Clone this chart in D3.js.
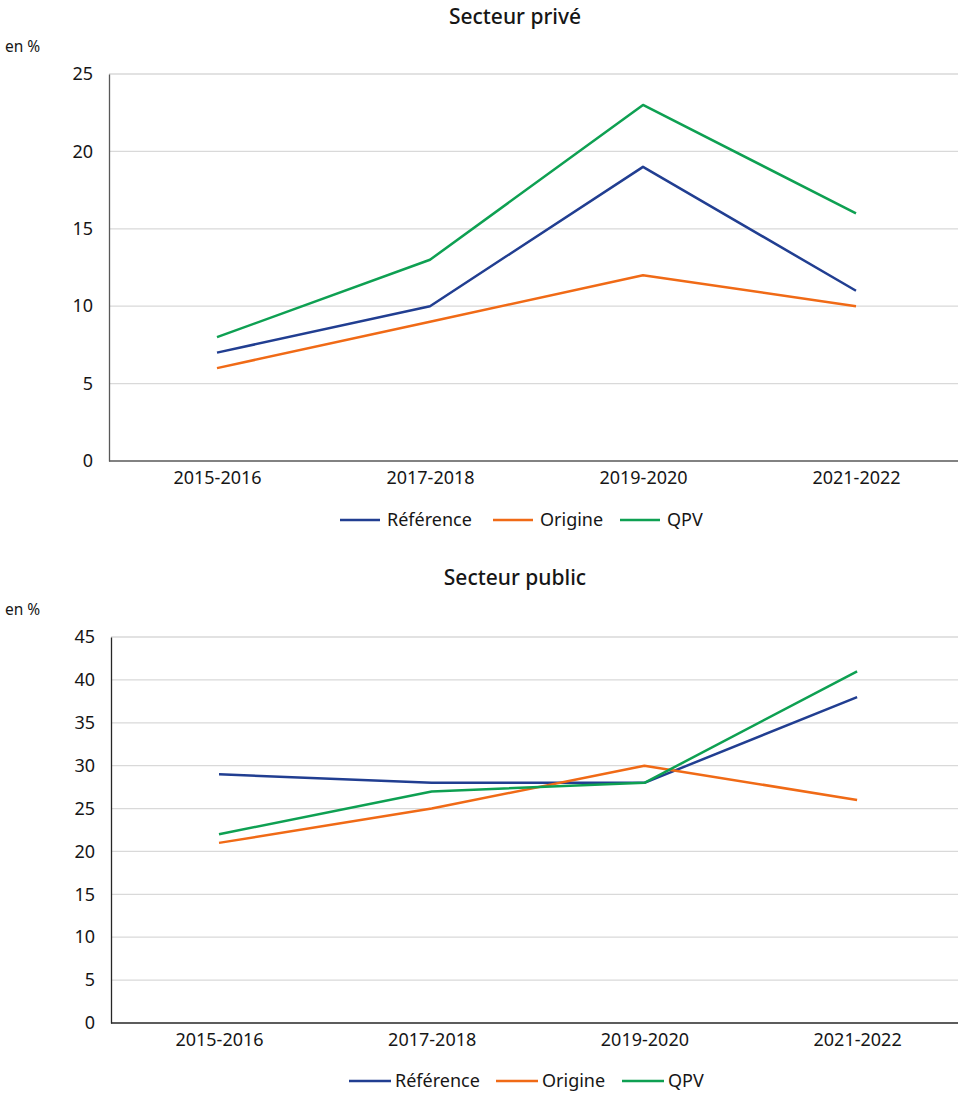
<!DOCTYPE html>
<html><head><meta charset="utf-8">
<script src="https://cdn.jsdelivr.net/npm/d3@7"></script>
<style>body{margin:0;background:#fff}svg{display:block;font-family:"Noto Sans",sans-serif}</style>
</head><body><svg id="c" width="958" height="1093"></svg>
<script>
const categories = ["2015-2016","2017-2018","2019-2020","2021-2022"];
const seriesNames = ["Référence","Origine","QPV"];
const seriesColors = ["#213e91","#f06a16","#0ea052"];
const priveReference = [7,10,19,11];
const priveOrigine = [6,9,12,10];
const priveQPV = [8,13,23,16];
const publicReference = [29,28,28,38];
const publicOrigine = [21,25,30,26];
const publicQPV = [22,27,28,41];
const priveTicks = [0,5,10,15,20,25];
const publicTicks = [0,5,10,15,20,25,30,35,40,45];

const svg = d3.select("#c");

function drawChart(cfg){
  const g = svg.append("g");
  g.append("text").attr("x",cfg.titleX).attr("y",cfg.titleY).attr("text-anchor","middle")
    .attr("font-size",21).attr("font-weight",500).attr("fill","#161616").text(cfg.title);
  g.append("text").attr("x",5).attr("y",cfg.unitY).attr("font-size",15.5).attr("fill","#161616").text("en %");
  const x = d3.scalePoint().domain(categories).range([cfg.c0, cfg.c0+cfg.step*3]);
  const y = d3.scaleLinear().domain([0,cfg.max]).range([cfg.bottom,cfg.top]);
  g.append("g").selectAll("line").data(cfg.ticks.filter(t=>t>0)).join("line")
    .attr("x1",cfg.x0).attr("x2",958).attr("y1",d=>y(d)).attr("y2",d=>y(d))
    .attr("stroke","#d9d9d9").attr("stroke-width",1.3);
  const ya = g.append("g").attr("transform",`translate(${cfg.x0},0)`)
    .call(d3.axisLeft(y).tickValues(cfg.ticks).tickSize(0).tickPadding(16));
  ya.select(".domain").attr("stroke",cfg.axisColor).attr("stroke-width",1.3);
  ya.selectAll("text").attr("font-size",18).attr("fill","#161616").attr("font-family","Noto Sans, sans-serif");
  const xa = g.append("g").attr("transform",`translate(0,${cfg.bottom})`)
    .call(d3.axisBottom(x).tickSize(0).tickPadding(10));
  xa.select(".domain").attr("d",`M${cfg.x0},0H958`).attr("stroke",cfg.axisColor).attr("stroke-width",1.3);
  xa.selectAll("text").attr("font-size",18).attr("fill","#161616").attr("font-family","Noto Sans, sans-serif");
  const line = d3.line().x((d,i)=>x(categories[i])).y(d=>y(d));
  cfg.series.forEach((s,k)=>{
    g.append("path").attr("d",line(s)).attr("fill","none").attr("stroke",seriesColors[k])
      .attr("stroke-width",2.5).attr("stroke-linejoin","round");
  });
  const lg = g.append("g");
  seriesNames.forEach((n,k)=>{
    const lx = cfg.legendX[k];
    lg.append("line").attr("x1",lx).attr("x2",lx+cfg.legendLen).attr("y1",cfg.legendY).attr("y2",cfg.legendY)
      .attr("stroke",seriesColors[k]).attr("stroke-width",2.5);
    lg.append("text").attr("x",lx+cfg.legendLen+cfg.legendGap).attr("y",cfg.legendY).attr("dy","0.35em")
      .attr("font-size",18).attr("fill","#161616").text(n);
  });
}

drawChart({title:"Secteur privé",titleX:515,titleY:24,unitY:52,x0:109,c0:217,step:213,top:74,bottom:461,max:25,
  ticks:priveTicks,series:[priveReference,priveOrigine,priveQPV],axisColor:"#595959",
  legendX:[340,493,620],legendLen:40,legendGap:7,legendY:520});
drawChart({title:"Secteur public",titleX:515,titleY:585,unitY:615,x0:111,c0:219,step:212.7,top:637,bottom:1023,max:45,
  ticks:publicTicks,series:[publicReference,publicOrigine,publicQPV],axisColor:"#262626",
  legendX:[349,496,622],legendLen:42,legendGap:4,legendY:1081});
</script></body></html>
